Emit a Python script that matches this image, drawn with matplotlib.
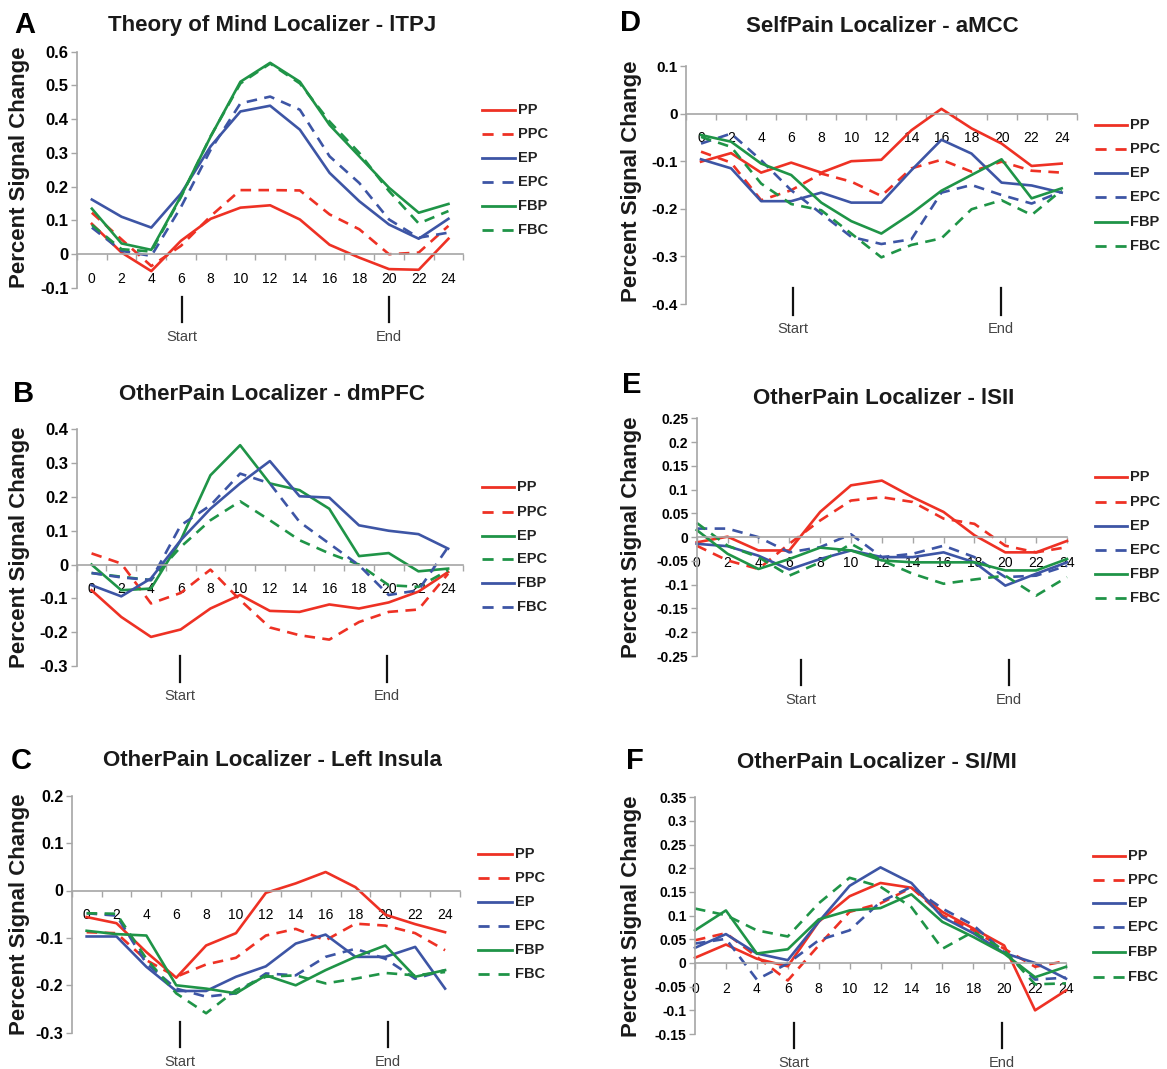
import numpy as np
import matplotlib
matplotlib.use("Agg")
import matplotlib.pyplot as plt
from matplotlib.lines import Line2D

plt.rcParams['font.family'] = ['Liberation Sans', 'DejaVu Sans']

W, H = 1167, 1069
TIME = [0, 2, 4, 6, 8, 10, 12, 14, 16, 18, 20, 22, 24]
LABELS = ['PP', 'PPC', 'EP', 'EPC', 'FBP', 'FBC']

# A - Theory of Mind Localizer - lTPJ
A_PP = [0.09, 0.005, -0.05, 0.04, 0.105, 0.138, 0.145, 0.103, 0.028, -0.01, -0.044, -0.046, 0.046]
A_PPC = [0.123, 0.044, -0.035, 0.025, 0.113, 0.19, 0.19, 0.189, 0.118, 0.074, 0.0, 0.005, 0.084]
A_EP = [0.162, 0.111, 0.079, 0.18, 0.32, 0.423, 0.44, 0.369, 0.241, 0.157, 0.088, 0.046, 0.105]
A_EPC = [0.079, 0.01, -0.005, 0.14, 0.31, 0.447, 0.467, 0.428, 0.29, 0.211, 0.103, 0.049, 0.064]
A_FBP = [0.135, 0.032, 0.013, 0.172, 0.349, 0.511, 0.567, 0.511, 0.383, 0.29, 0.197, 0.123, 0.149]
A_FBC = [0.087, 0.015, 0.008, 0.17, 0.35, 0.506, 0.565, 0.506, 0.393, 0.3, 0.187, 0.091, 0.128]

# B - OtherPain Localizer - dmPFC
B_PP = [-0.076, -0.155, -0.214, -0.192, -0.13, -0.09, -0.137, -0.14, -0.118, -0.13, -0.112, -0.08, -0.022]
B_PPC = [0.033, 0.003, -0.115, -0.084, -0.015, -0.105, -0.186, -0.209, -0.222, -0.17, -0.14, -0.133, -0.027]
B_EP = [0.0, -0.076, -0.071, 0.072, 0.264, 0.353, 0.24, 0.22, 0.165, 0.025, 0.034, -0.02, -0.012]
B_EPC = [-0.025, -0.036, -0.046, 0.052, 0.131, 0.187, 0.131, 0.072, 0.033, 0.0, -0.061, -0.066, -0.017]
B_FBP = [-0.061, -0.094, -0.041, 0.072, 0.165, 0.24, 0.306, 0.202, 0.198, 0.116, 0.1, 0.09, 0.047]
B_FBC = [-0.025, -0.038, -0.046, 0.116, 0.175, 0.269, 0.24, 0.126, 0.062, -0.002, -0.09, -0.076, 0.052]

# C - OtherPain Localizer - Left Insula
C_PP = [-0.056, -0.069, -0.13, -0.184, -0.116, -0.09, -0.005, 0.015, 0.039, 0.007, -0.051, -0.071, -0.088]
C_PPC = [-0.088, -0.09, -0.147, -0.182, -0.156, -0.142, -0.095, -0.081, -0.105, -0.07, -0.074, -0.09, -0.126]
C_EP = [-0.097, -0.097, -0.161, -0.212, -0.212, -0.182, -0.16, -0.112, -0.093, -0.14, -0.14, -0.119, -0.207]
C_EPC = [-0.048, -0.053, -0.154, -0.207, -0.224, -0.217, -0.175, -0.179, -0.14, -0.123, -0.144, -0.186, -0.168]
C_FBP = [-0.085, -0.092, -0.095, -0.2, -0.207, -0.217, -0.179, -0.2, -0.168, -0.14, -0.116, -0.182, -0.168]
C_FBC = [-0.048, -0.049, -0.144, -0.217, -0.259, -0.21, -0.182, -0.179, -0.196, -0.186, -0.174, -0.179, -0.172]

# D - SelfPain Localizer - aMCC
D_PP = [-0.101, -0.083, -0.124, -0.103, -0.124, -0.1, -0.097, -0.035, 0.01, -0.031, -0.063, -0.11, -0.105]
D_PPC = [-0.08, -0.103, -0.182, -0.161, -0.126, -0.143, -0.173, -0.115, -0.097, -0.122, -0.101, -0.12, -0.124]
D_EP = [-0.096, -0.115, -0.184, -0.184, -0.166, -0.187, -0.187, -0.119, -0.055, -0.084, -0.145, -0.151, -0.166]
D_EPC = [-0.063, -0.042, -0.098, -0.161, -0.21, -0.259, -0.274, -0.264, -0.166, -0.15, -0.171, -0.189, -0.164]
D_FBP = [-0.045, -0.059, -0.105, -0.129, -0.187, -0.226, -0.252, -0.21, -0.162, -0.129, -0.096, -0.178, -0.157]
D_FBC = [-0.049, -0.07, -0.147, -0.19, -0.203, -0.252, -0.302, -0.276, -0.262, -0.201, -0.182, -0.213, -0.161]

# E - OtherPain Localizer - lSII
E_PP = [-0.011, 0.001, -0.028, -0.028, 0.053, 0.109, 0.119, 0.084, 0.053, 0.004, -0.032, -0.032, -0.008]
E_PPC = [-0.018, -0.049, -0.067, -0.014, 0.035, 0.077, 0.084, 0.074, 0.039, 0.028, -0.018, -0.032, -0.021]
E_EP = [-0.014, -0.019, -0.039, -0.068, -0.046, -0.028, -0.042, -0.042, -0.032, -0.053, -0.102, -0.077, -0.053]
E_EPC = [0.018, 0.018, 0.0, -0.032, -0.021, 0.006, -0.042, -0.035, -0.018, -0.042, -0.084, -0.081, -0.06]
E_FBP = [0.015, -0.035, -0.067, -0.046, -0.022, -0.028, -0.049, -0.053, -0.053, -0.053, -0.07, -0.07, -0.046]
E_FBC = [0.03, -0.018, -0.042, -0.081, -0.053, -0.014, -0.049, -0.077, -0.098, -0.089, -0.081, -0.123, -0.084]

# F - OtherPain Localizer - SI/MI
F_PP = [0.011, 0.039, 0.009, -0.007, 0.087, 0.141, 0.169, 0.159, 0.108, 0.073, 0.037, -0.1, -0.058]
F_PPC = [0.048, 0.063, 0.013, -0.037, 0.037, 0.108, 0.126, 0.159, 0.101, 0.069, 0.03, -0.008, 0.004]
F_EP = [0.032, 0.061, 0.02, 0.006, 0.087, 0.163, 0.202, 0.169, 0.097, 0.063, 0.021, 0.0, -0.033]
F_EPC = [0.041, 0.051, -0.035, -0.001, 0.048, 0.069, 0.129, 0.161, 0.115, 0.08, 0.023, -0.035, -0.031]
F_FBP = [0.069, 0.111, 0.02, 0.029, 0.092, 0.111, 0.116, 0.145, 0.087, 0.055, 0.02, -0.03, -0.008]
F_FBC = [0.115, 0.101, 0.069, 0.056, 0.126, 0.18, 0.161, 0.118, 0.03, 0.066, 0.027, -0.045, -0.043]

RED, BLUE, GREEN = '#EE3124', '#3D55A5', '#1F9447'
GRAY = '#A6A6A6'
COLORS = {'PP': RED, 'PPC': RED, 'EP': BLUE, 'EPC': BLUE, 'FBP': GREEN, 'FBC': GREEN}
COLORS_B = {'PP': RED, 'PPC': RED, 'EP': GREEN, 'EPC': GREEN, 'FBP': BLUE, 'FBC': BLUE}

# layout, all in pixels of the 1167x1069 canvas
PANELS = [
    dict(letter='A', title='Theory of Mind Localizer - lTPJ',
         data=[A_PP, A_PPC, A_EP, A_EPC, A_FBP, A_FBC], colors=COLORS,
         box=(77, 51.7, 463.3, 288), ylim=(-0.1, 0.6), ystep=0.1, between=True, yfs=12,
         letter_xy=(25, 25), title_xy=(272, 25), ylabel_xy=(20, 167),
         leg_x=(482, 515), leg_y=[110, 134, 158, 182, 206, 230],
         marks=(181.7, 389.3, 297, 322, 337)),
    dict(letter='B', title='OtherPain Localizer - dmPFC',
         data=[B_PP, B_PPC, B_EP, B_EPC, B_FBP, B_FBC], colors=COLORS_B,
         box=(76.7, 429.3, 463, 666), ylim=(-0.3, 0.4), ystep=0.1, between=True, yfs=12,
         letter_xy=(24, 394), title_xy=(272, 394), ylabel_xy=(20, 547),
         leg_x=(482, 514), leg_y=[487, 512, 536, 559, 583, 607],
         marks=(180, 387.3, 656, 682, 696)),
    dict(letter='C', title='OtherPain Localizer - Left Insula',
         data=[C_PP, C_PPC, C_EP, C_EPC, C_FBP, C_FBC], colors=COLORS,
         box=(71.7, 795.7, 460, 1032.7), ylim=(-0.3, 0.2), ystep=0.1, between=True, yfs=11.5,
         letter_xy=(21, 761), title_xy=(272, 760), ylabel_xy=(20, 914),
         leg_x=(478, 512), leg_y=[854, 878, 902, 926, 950, 974],
         marks=(180, 387.7, 1022, 1047, 1062)),
    dict(letter='D', title='SelfPain Localizer - aMCC',
         data=[D_PP, D_PPC, D_EP, D_EPC, D_FBP, D_FBC], colors=COLORS,
         box=(686, 66, 1076.7, 304), ylim=(-0.4, 0.1), ystep=0.1, between=True, yfs=11,
         letter_xy=(630, 23), title_xy=(882, 27), ylabel_xy=(632, 181),
         leg_x=(1095, 1127), leg_y=[125, 149, 173, 197, 222, 246],
         marks=(793.3, 1001, 288, 315, 329)),
    dict(letter='E', title='OtherPain Localizer - lSII',
         data=[E_PP, E_PPC, E_EP, E_EPC, E_FBP, E_FBC], colors=COLORS,
         box=(696.7, 418.3, 1067, 656), ylim=(-0.25, 0.25), ystep=0.05, between=False, yfs=10,
         letter_xy=(632, 385), title_xy=(884, 398), ylabel_xy=(632, 537),
         leg_x=(1095, 1127), leg_y=[477, 502, 526, 550, 574, 598],
         marks=(801, 1009.3, 660, 685, 700)),
    dict(letter='F', title='OtherPain Localizer - SI/MI',
         data=[F_PP, F_PPC, F_EP, F_EPC, F_FBP, F_FBC], colors=COLORS,
         box=(695, 797.3, 1066, 1034), ylim=(-0.15, 0.35), ystep=0.05, between=False, yfs=10,
         letter_xy=(635, 761), title_xy=(877, 762), ylabel_xy=(632, 916),
         leg_x=(1093, 1125), leg_y=[856, 880, 903, 927, 952, 977],
         marks=(794.3, 1002.3, 1023, 1048, 1063)),
]

DASH = (0, (4, 2.8))
LEG_DASH = (0, (4, 3.2))
XFS = 10.5


def fx(px):
    return px / W


def fy(py):
    return 1 - py / H


fig = plt.figure(figsize=(W / 100, H / 100), dpi=100)

for p in PANELS:
    l, t, r, b = p['box']
    ax = fig.add_axes([fx(l), fy(b), (r - l) / W, (b - t) / H])

    for lab, vals in zip(LABELS, p['data']):
        ax.plot(TIME, vals, color=p['colors'][lab], lw=1.9,
                ls=DASH if lab.endswith('C') else '-',
                dash_capstyle='butt', clip_on=False)

    y0, y1 = p['ylim']
    ax.set_ylim(y0, y1)
    yt = np.round(np.arange(y0, y1 + p['ystep'] / 2, p['ystep']), 2)
    ax.set_yticks(yt, labels=[f"{v + 0.0:g}" for v in yt],
                  fontsize=p['yfs'], fontweight='bold')
    ax.tick_params(axis='y', length=4, width=1, color=GRAY, pad=2)

    if p['between']:
        # Excel style category axis: marks between categories
        ax.set_xlim(-1, 25)
        ax.set_xticks(list(range(-1, 26, 2)), labels=[])
        ax.set_xticks(TIME, labels=[str(v) for v in TIME], minor=True,
                      fontsize=XFS, fontweight='bold')
        ax.tick_params(axis='x', which='major', length=4, width=1, color=GRAY)
        ax.tick_params(axis='x', which='minor', length=0, pad=12.5)
    else:
        ax.set_xlim(0, 24)
        ax.set_xticks(TIME, labels=[str(v) for v in TIME], fontsize=XFS, fontweight='bold')
        ax.tick_params(axis='x', length=4, width=1, color=GRAY, pad=9.5)

    ax.spines[['top', 'right']].set_visible(False)
    ax.spines['bottom'].set_position(('data', 0))
    for s in ('left', 'bottom'):
        ax.spines[s].set_color(GRAY)
        ax.spines[s].set_linewidth(1.2)
    ax.patch.set_alpha(0)

    fig.text(fx(p['letter_xy'][0]), fy(p['letter_xy'][1]), p['letter'],
             fontsize=21, fontweight='bold', ha='center', va='center')
    fig.text(fx(p['title_xy'][0]), fy(p['title_xy'][1]), p['title'],
             fontsize=16, fontweight='bold', ha='center', va='center', color='#1a1a1a')
    fig.text(fx(p['ylabel_xy'][0]), fy(p['ylabel_xy'][1]), 'Percent Signal Change',
             fontsize=16, fontweight='bold', ha='center', va='center', rotation=90,
             color='#1a1a1a')

    # legend
    lx0, lx1 = p['leg_x']
    for lab, ly in zip(LABELS, p['leg_y']):
        fig.add_artist(Line2D([fx(lx0), fx(lx1)], [fy(ly), fy(ly)],
                              transform=fig.transFigure, color=p['colors'][lab], lw=2,
                              ls=LEG_DASH if lab.endswith('C') else '-',
                              dash_capstyle='butt'))
        fig.text(fx(lx1 + 3), fy(ly), lab, fontsize=10.5, fontweight='bold',
                 ha='left', va='center', color='#222222')

    # start / end markers under the plot
    sx, ex, my0, my1, mty = p['marks']
    for mx, txt in ((sx, 'Start'), (ex, 'End')):
        fig.add_artist(Line2D([fx(mx), fx(mx)], [fy(my0), fy(my1)],
                              transform=fig.transFigure, color='#111111', lw=1.6))
        fig.text(fx(mx), fy(mty), txt, fontsize=10.5, ha='center', va='center',
                 color='#444444')

fig.savefig('out.png', dpi=100)
